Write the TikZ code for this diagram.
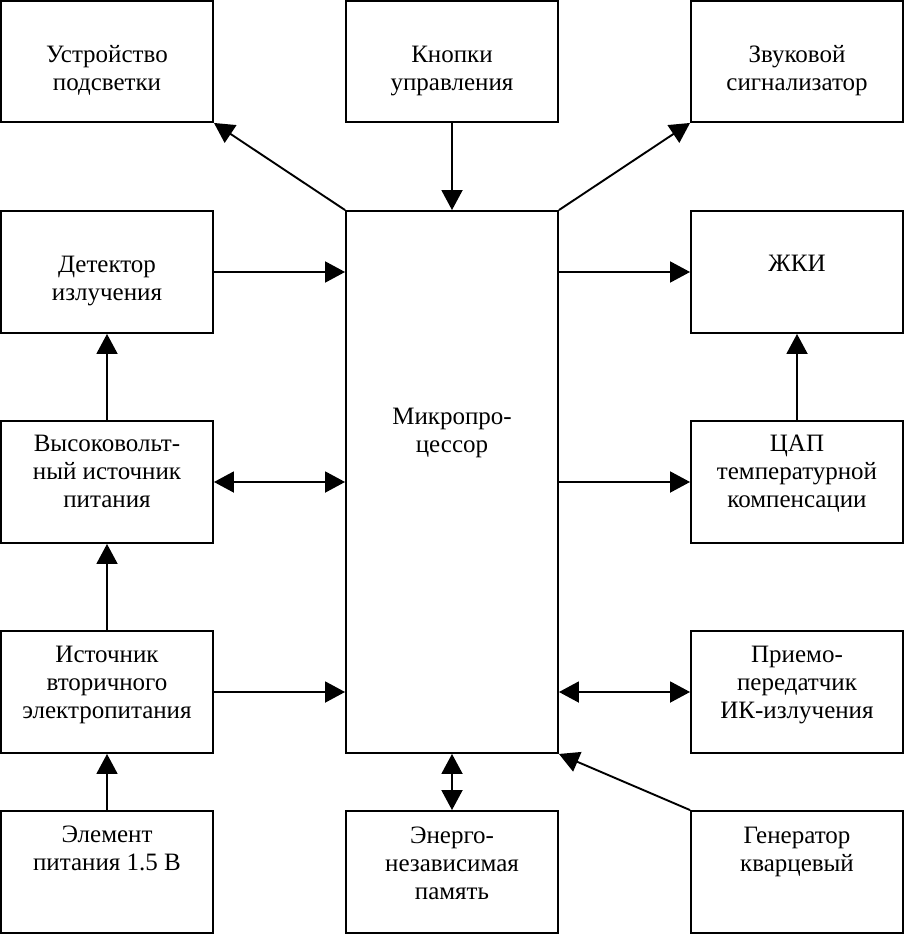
\documentclass[tikz,border=0pt]{standalone}
\usepackage{fontspec}
\setmainfont{Liberation Serif}
\usetikzlibrary{arrows.meta}
\tikzset{
  box/.style={draw, line width=1.9pt, inner sep=0pt, minimum width=212pt, minimum height=122pt},
  lbl/.style={align=center, font=\fontsize{25}{28}\selectfont, inner sep=0pt, anchor=base},
  conn/.style={line width=1.9pt},
  onetip/.style={conn, -{Triangle[length=20pt,width=21pt]}},
  twotip/.style={conn, {Triangle[length=20pt,width=21pt]}-{Triangle[length=20pt,width=21pt]}}
}
\begin{document}
\begin{tikzpicture}[x=1pt,y=-1pt]
\useasboundingbox (0,0) rectangle (904,934);
% boxes
\node[box, minimum height=121pt] (ust) at (107,61.5) {};
\node[box, minimum height=121pt] (kn) at (452,61.5) {};
\node[box, minimum height=121pt] (zv) at (797,61.5) {};
\node[box] (det) at (107,272) {};
\node[box] (zhki) at (797,272) {};
\node[box, minimum height=542pt] (mp) at (452,482) {};
\node[box] (hv) at (107,482) {};
\node[box] (cap) at (797,482) {};
\node[box] (ist) at (107,692) {};
\node[box] (ir) at (797,692) {};
\node[box] (el) at (107,872) {};
\node[box] (mem) at (452,872) {};
\node[box] (gen) at (797,872) {};
% labels (anchored at the baseline of their last line)
\node[lbl] (tust) at ([yshift=-90pt]ust.north) {Устройство\\подсветки};
\node[lbl] (tkn) at ([yshift=-90pt]kn.north) {Кнопки\\управления};
\node[lbl] (tzv) at ([yshift=-90pt]zv.north) {Звуковой\\сигнализатор};
\node[lbl] (tdet) at ([yshift=-90pt]det.north) {Детектор\\излучения};
\node[lbl] (tzhki) at ([yshift=-61pt]zhki.north) {ЖКИ};
\node[lbl] (tmp) at ([yshift=-242pt]mp.north) {Микропро-\\цессор};
\node[lbl] (thv) at ([yshift=-87pt]hv.north) {Высоковольт-\\ный источник\\питания};
\node[lbl] (tcap) at ([yshift=-87pt]cap.north) {ЦАП\\температурной\\компенсации};
\node[lbl] (tist) at ([yshift=-88pt]ist.north) {Источник\\вторичного\\электропитания};
\node[lbl] (tir) at ([yshift=-88pt]ir.north) {Приемо-\\передатчик\\ИК-излучения};
\node[lbl] (tel) at ([yshift=-60pt]el.north) {Элемент\\питания 1.5 В};
\node[lbl] (tmem) at ([yshift=-89pt]mem.north) {Энерго-\\независимая\\память};
\node[lbl] (tgen) at ([yshift=-61pt]gen.north) {Генератор\\кварцевый};
% connectors
\draw[onetip] (mp.north west) -- (ust.south east);
\draw[onetip] (kn.south) -- (mp.north);
\draw[onetip] (mp.north east) -- (zv.south west);
\draw[onetip] (det.east) -- (det.east -| mp.west);
\draw[onetip] (zhki.west -| mp.east) -- (zhki.west);
\draw[twotip] (hv.east) -- (mp.west);
\draw[onetip] (mp.east) -- (cap.west);
\draw[onetip] (cap.north) -- (zhki.south);
\draw[onetip] (hv.north) -- (det.south);
\draw[onetip] (ist.north) -- (hv.south);
\draw[onetip] (ist.east) -- (ist.east -| mp.west);
\draw[twotip] (ir.west -| mp.east) -- (ir.west);
\draw[onetip] (el.north) -- (ist.south);
\draw[twotip] (mp.south) -- (mem.north);
\draw[onetip] (gen.north west) -- (mp.south east);
\end{tikzpicture}
\end{document}
